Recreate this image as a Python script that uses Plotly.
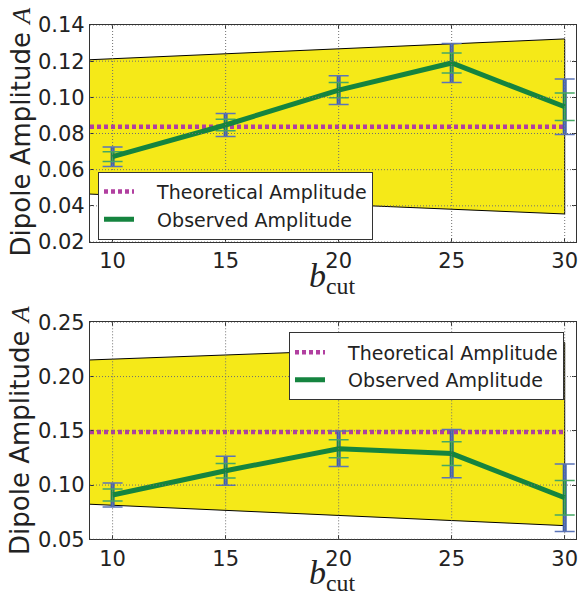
import plotly.graph_objects as go

# ---------------- data ----------------
b_cut = [10, 15, 20, 25, 30]
band_b = [9, 30]

top_observed = [0.0672, 0.0847, 0.1040, 0.1190, 0.0948]
top_err_outer = [0.0054, 0.0064, 0.0080, 0.0108, 0.0153]
top_err_inner = [0.0027, 0.0032, 0.0042, 0.0055, 0.0076]
top_theory = 0.0838
top_band_upper = [0.1208, 0.1323]
top_band_lower = [0.0465, 0.0355]
top_yticks = [0.02, 0.04, 0.06, 0.08, 0.10, 0.12, 0.14]

bot_observed = [0.0908, 0.1132, 0.1335, 0.1290, 0.0883]
bot_err_outer = [0.0110, 0.0134, 0.0164, 0.0222, 0.0310]
bot_err_inner = [0.0055, 0.0066, 0.0083, 0.0110, 0.0160]
bot_theory = 0.149
bot_band_upper = [0.2153, 0.2313]
bot_band_lower = [0.0823, 0.0626]
bot_yticks = [0.05, 0.10, 0.15, 0.20, 0.25]

legend_names = ["Theoretical Amplitude", "Observed Amplitude"]

# ---------------- styles ----------------
YELLOW = "#F5E918"
MAGENTA = "#B13FA0"
GREEN = "#15843F"
BLUE = "#3C5DAA"
BLUE_CAP = "#5B74B8"
GREEN_CAP = "#46A864"
GRID = "#707070"
FONT = "DejaVu Sans"
TXT = "#222222"
PAD = "\u00a0\u00a0\u00a0"

fig = go.Figure()


def add_panel(xa, ya, leg, observed, err_outer, err_inner, theory, upper, lower):
    fig.add_trace(go.Scatter(
        x=band_b + band_b[::-1], y=upper + lower[::-1],
        fill="toself", fillcolor=YELLOW, mode="lines",
        line=dict(color="black", width=1), showlegend=False,
        hoverinfo="skip", xaxis=xa, yaxis=ya))
    fig.add_trace(go.Scatter(
        x=band_b, y=[theory] * len(band_b), mode="lines",
        line=dict(color=MAGENTA, width=4.5, dash="4px,3px"),
        name=PAD + legend_names[0], legend=leg, xaxis=xa, yaxis=ya))
    for thick, w, col in [(4, 0, BLUE), (1.5, 10, BLUE_CAP)]:
        fig.add_trace(go.Scatter(
            x=b_cut, y=observed, mode="markers",
            marker=dict(size=1, color="rgba(0,0,0,0)"),
            error_y=dict(type="data", array=err_outer, visible=True,
                         thickness=thick, width=w, color=col),
            showlegend=False, hoverinfo="skip", xaxis=xa, yaxis=ya))
    for thick, w, col in [(3, 0, GREEN), (1.5, 10, GREEN_CAP)]:
        fig.add_trace(go.Scatter(
            x=b_cut, y=observed, mode="markers",
            marker=dict(size=1, color="rgba(0,0,0,0)"),
            error_y=dict(type="data", array=err_inner, visible=True,
                         thickness=thick, width=w, color=col),
            showlegend=False, hoverinfo="skip", xaxis=xa, yaxis=ya))
    fig.add_trace(go.Scatter(
        x=b_cut, y=observed, mode="lines",
        line=dict(color=GREEN, width=5),
        name=PAD + legend_names[1], legend=leg, xaxis=xa, yaxis=ya))


add_panel("x", "y", "legend", top_observed, top_err_outer, top_err_inner,
          top_theory, top_band_upper, top_band_lower)
add_panel("x2", "y2", "legend2", bot_observed, bot_err_outer, bot_err_inner,
          bot_theory, bot_band_upper, bot_band_lower)

# grid lines drawn above the traces (as in the reference)
for xa, ya, yt in [("x", "y", top_yticks), ("x2", "y2", bot_yticks)]:
    for v in yt:
        fig.add_shape(type="line", xref=f"{xa} domain", yref=ya,
                      x0=0, x1=1, y0=v, y1=v, layer="above",
                      line=dict(color=GRID, width=1, dash="1px,2px"))
    for v in b_cut:
        fig.add_shape(type="line", xref=xa, yref=f"{ya} domain",
                      x0=v, x1=v, y0=0, y1=1, layer="above",
                      line=dict(color=GRID, width=1, dash="1px,2px"))

W, H = 582, 595
xdom = [90 / W, 576 / W]

axis_common = dict(
    showline=True, linecolor="#333333", linewidth=1.2, mirror="ticks",
    ticks="inside", ticklen=4, tickcolor="#333333",
    showgrid=False, zeroline=False, automargin=False, layer="above traces",
    tickfont=dict(family=FONT, size=21, color=TXT),
)

legend_common = dict(
    bgcolor="white", bordercolor="#333333", borderwidth=1,
    font=dict(family=FONT, size=19, color=TXT),
    xanchor="left", yanchor="top", tracegroupgap=0,
)

fig.update_layout(
    width=W, height=H,
    margin=dict(l=0, r=0, t=0, b=0),
    paper_bgcolor="white", plot_bgcolor="white",
    xaxis=dict(domain=xdom, anchor="y", range=[9, 30.5], tickvals=b_cut,
               **axis_common),
    yaxis=dict(domain=[1 - 242 / H, 1 - 25 / H], anchor="x",
               range=[0.02, 0.14], tickvals=top_yticks, tickformat=".2f",
               **axis_common),
    xaxis2=dict(domain=xdom, anchor="y2", range=[9, 30.5], tickvals=b_cut,
                **axis_common),
    yaxis2=dict(domain=[1 - 539.3 / H, 1 - 322.3 / H], anchor="x2",
                range=[0.05, 0.25], tickvals=bot_yticks, tickformat=".2f",
                **axis_common),
    legend=dict(x=98 / W, y=1 - 171.7 / H, **legend_common),
    legend2=dict(x=289 / W, y=1 - 332.3 / H, **legend_common),
    showlegend=True,
)

ytitle = ("Dipole Amplitude <span style=\"font-family:'Liberation Serif'\">"
          "<i>A</i></span>")
xtitle = "<i>b</i><sub>cut</sub>"

for yc in [132.5, 431]:
    fig.add_annotation(text=ytitle, xref="paper", yref="paper",
                       x=20 / W, y=1 - yc / H, textangle=-90,
                       showarrow=False, xanchor="center", yanchor="middle",
                       font=dict(family=FONT, size=26, color=TXT))
for yc in [278, 575]:
    fig.add_annotation(text=xtitle, xref="paper", yref="paper",
                       x=332 / W, y=1 - yc / H,
                       showarrow=False, xanchor="center", yanchor="middle",
                       font=dict(family="Liberation Serif", size=34, color=TXT))

fig.write_html("out.html")
